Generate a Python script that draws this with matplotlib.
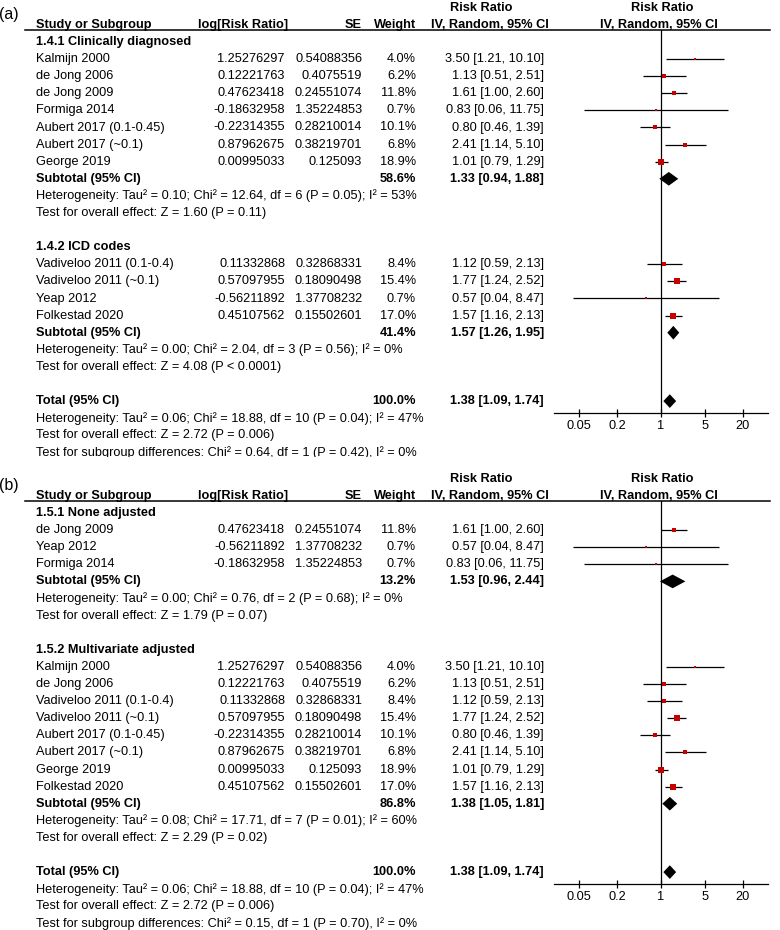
import matplotlib
matplotlib.use('Agg')
import matplotlib.pyplot as plt

plt.rcParams['font.family'] = ['Liberation Sans', 'DejaVu Sans']

# ---- data, panel (a): subgroups by diagnosis ----
a1_title = "1.4.1 Clinically diagnosed"
a1_names = ["Kalmijn 2000", "de Jong 2006", "de Jong 2009", "Formiga 2014",
            "Aubert 2017 (0.1-0.45)", "Aubert 2017 (~0.1)", "George 2019"]
a1_logrr = ["1.25276297", "0.12221763", "0.47623418", "-0.18632958",
            "-0.22314355", "0.87962675", "0.00995033"]
a1_se = ["0.54088356", "0.4075519", "0.24551074", "1.35224853",
         "0.28210014", "0.38219701", "0.125093"]
a1_weight = [4.0, 6.2, 11.8, 0.7, 10.1, 6.8, 18.9]
a1_rr = [3.50, 1.13, 1.61, 0.83, 0.80, 2.41, 1.01]
a1_lo = [1.21, 0.51, 1.00, 0.06, 0.46, 1.14, 0.79]
a1_hi = [10.10, 2.51, 2.60, 11.75, 1.39, 5.10, 1.29]
a1_sub = (58.6, 1.33, 0.94, 1.88)
a1_het = "Heterogeneity: Tau² = 0.10; Chi² = 12.64, df = 6 (P = 0.05); I² = 53%"
a1_test = "Test for overall effect: Z = 1.60 (P = 0.11)"

a2_title = "1.4.2 ICD codes"
a2_names = ["Vadiveloo 2011 (0.1-0.4)", "Vadiveloo 2011 (~0.1)", "Yeap 2012", "Folkestad 2020"]
a2_logrr = ["0.11332868", "0.57097955", "-0.56211892", "0.45107562"]
a2_se = ["0.32868331", "0.18090498", "1.37708232", "0.15502601"]
a2_weight = [8.4, 15.4, 0.7, 17.0]
a2_rr = [1.12, 1.77, 0.57, 1.57]
a2_lo = [0.59, 1.24, 0.04, 1.16]
a2_hi = [2.13, 2.52, 8.47, 2.13]
a2_sub = (41.4, 1.57, 1.26, 1.95)
a2_het = "Heterogeneity: Tau² = 0.00; Chi² = 2.04, df = 3 (P = 0.56); I² = 0%"
a2_test = "Test for overall effect: Z = 4.08 (P < 0.0001)"

a_subgroup_test = "Test for subgroup differences: Chi² = 0.64, df = 1 (P = 0.42), I² = 0%"

# ---- data, panel (b): subgroups by adjustment ----
b1_title = "1.5.1 None adjusted"
b1_names = ["de Jong 2009", "Yeap 2012", "Formiga 2014"]
b1_logrr = ["0.47623418", "-0.56211892", "-0.18632958"]
b1_se = ["0.24551074", "1.37708232", "1.35224853"]
b1_weight = [11.8, 0.7, 0.7]
b1_rr = [1.61, 0.57, 0.83]
b1_lo = [1.00, 0.04, 0.06]
b1_hi = [2.60, 8.47, 11.75]
b1_sub = (13.2, 1.53, 0.96, 2.44)
b1_het = "Heterogeneity: Tau² = 0.00; Chi² = 0.76, df = 2 (P = 0.68); I² = 0%"
b1_test = "Test for overall effect: Z = 1.79 (P = 0.07)"

b2_title = "1.5.2 Multivariate adjusted"
b2_names = ["Kalmijn 2000", "de Jong 2006", "Vadiveloo 2011 (0.1-0.4)", "Vadiveloo 2011 (~0.1)",
            "Aubert 2017 (0.1-0.45)", "Aubert 2017 (~0.1)", "George 2019", "Folkestad 2020"]
b2_logrr = ["1.25276297", "0.12221763", "0.11332868", "0.57097955",
            "-0.22314355", "0.87962675", "0.00995033", "0.45107562"]
b2_se = ["0.54088356", "0.4075519", "0.32868331", "0.18090498",
         "0.28210014", "0.38219701", "0.125093", "0.15502601"]
b2_weight = [4.0, 6.2, 8.4, 15.4, 10.1, 6.8, 18.9, 17.0]
b2_rr = [3.50, 1.13, 1.12, 1.77, 0.80, 2.41, 1.01, 1.57]
b2_lo = [1.21, 0.51, 0.59, 1.24, 0.46, 1.14, 0.79, 1.16]
b2_hi = [10.10, 2.51, 2.13, 2.52, 1.39, 5.10, 1.29, 2.13]
b2_sub = (86.8, 1.38, 1.05, 1.81)
b2_het = "Heterogeneity: Tau² = 0.08; Chi² = 17.71, df = 7 (P = 0.01); I² = 60%"
b2_test = "Test for overall effect: Z = 2.29 (P = 0.02)"

b_subgroup_test = "Test for subgroup differences: Chi² = 0.15, df = 1 (P = 0.70), I² = 0%"

# overall, same for both panels
total = (100.0, 1.38, 1.09, 1.74)
total_het = "Heterogeneity: Tau² = 0.06; Chi² = 18.88, df = 10 (P = 0.04); I² = 47%"
total_test = "Test for overall effect: Z = 2.72 (P = 0.006)"

ticks = [0.05, 0.2, 1, 5, 20]
tick_labels = ["0.05", "0.2", "1", "5", "20"]

W, H = 780, 930
DY = 17.1
FS = 9.2
RED = '#c80000'

fig = plt.figure(figsize=(W / 100, H / 100), dpi=100)


def px_axes(left, top, right, bottom):
    return fig.add_axes([left / W, 1 - bottom / H, (right - left) / W, (bottom - top) / H])


def ci_text(rr, lo, hi):
    return "%.2f [%.2f, %.2f]" % (rr, lo, hi)


def draw_panel(top, bottom, y0, label, groups, subgroup_test):
    tab = px_axes(0, top, W, bottom)
    tab.set_xlim(0, W)
    tab.set_ylim((bottom - y0) / DY, (top - y0) / DY)
    tab.axis('off')

    def txt(x, row, s, ha='left', bold=False, size=FS):
        tab.text(x, row, s, ha=ha, va='center', fontsize=size,
                 fontweight='bold' if bold else 'normal', clip_on=True)

    # header
    txt(-1, -1.6, label, size=11.5)
    txt(481, -2, "Risk Ratio", ha='center', bold=True)
    txt(662, -2, "Risk Ratio", ha='center', bold=True)
    txt(36, -1, "Study or Subgroup", bold=True)
    txt(288, -1, "log[Risk Ratio]", ha='right', bold=True)
    txt(362, -1, "SE", ha='right', bold=True)
    txt(416, -1, "Weight", ha='right', bold=True)
    txt(490, -1, "IV, Random, 95% CI", ha='center', bold=True)
    txt(659, -1, "IV, Random, 95% CI", ha='center', bold=True)
    tab.plot([25, 770], [-0.68, -0.68], color='black', lw=1.1, clip_on=True)

    axis_row = 21.7
    fp = px_axes(554, y0 - 0.68 * DY, 768, y0 + axis_row * DY)
    fp.set_xscale('log')
    fp.set_xlim(0.02, 50)
    fp.set_ylim(axis_row, -0.68)
    fp.patch.set_alpha(0)
    for s in ['top', 'right', 'left']:
        fp.spines[s].set_visible(False)
    fp.spines['bottom'].set_linewidth(0.9)
    fp.set_xticks(ticks)
    fp.set_xticklabels(tick_labels)
    fp.minorticks_off()
    fp.set_yticks([])
    fp.tick_params(axis='x', direction='inout', length=6, width=0.9, labelsize=FS, pad=2)
    fp.axvline(1, color='black', lw=0.9)

    def diamond(row, rr, lo, hi):
        fp.fill([lo, rr, hi, rr], [row, row - 0.4, row, row + 0.4], color='black', lw=0)

    row = 0
    for g in groups:
        title, names, logrr, se, weight, rr, lo, hi, sub, het, test = g
        txt(36, row, title, bold=True)
        row += 1
        for i in range(len(names)):
            txt(36, row, names[i])
            txt(285, row, logrr[i], ha='right')
            txt(362, row, se[i], ha='right')
            txt(416, row, "%.1f%%" % weight[i], ha='right')
            txt(544, row, ci_text(rr[i], lo[i], hi[i]), ha='right')
            fp.hlines(row, lo[i], hi[i], color='black', lw=0.9)
            # box side in points, area proportional to weight
            side = 1.35 * weight[i] ** 0.5 * 0.72
            fp.scatter([rr[i]], [row], marker='s', s=side ** 2, color=RED, lw=0, zorder=3)
            row += 1
        txt(36, row, "Subtotal (95% CI)", bold=True)
        txt(416, row, "%.1f%%" % sub[0], ha='right', bold=True)
        txt(544, row, ci_text(*sub[1:]), ha='right', bold=True)
        diamond(row, *sub[1:])
        txt(36, row + 1, het)
        txt(36, row + 2, test)
        row += 4

    txt(36, row, "Total (95% CI)", bold=True)
    txt(416, row, "%.1f%%" % total[0], ha='right', bold=True)
    txt(544, row, ci_text(*total[1:]), ha='right', bold=True)
    diamond(row, *total[1:])
    txt(36, row + 1, total_het)
    txt(36, row + 2, total_test)
    txt(36, row + 3, subgroup_test)


groups_a = [
    (a1_title, a1_names, a1_logrr, a1_se, a1_weight, a1_rr, a1_lo, a1_hi, a1_sub, a1_het, a1_test),
    (a2_title, a2_names, a2_logrr, a2_se, a2_weight, a2_rr, a2_lo, a2_hi, a2_sub, a2_het, a2_test),
]
groups_b = [
    (b1_title, b1_names, b1_logrr, b1_se, b1_weight, b1_rr, b1_lo, b1_hi, b1_sub, b1_het, b1_test),
    (b2_title, b2_names, b2_logrr, b2_se, b2_weight, b2_rr, b2_lo, b2_hi, b2_sub, b2_het, b2_test),
]

draw_panel(0, 457, 42, "(a)", groups_a, a_subgroup_test)
draw_panel(462, 930, 513, "(b)", groups_b, b_subgroup_test)

fig.savefig('out.png', dpi=100, facecolor='white')
